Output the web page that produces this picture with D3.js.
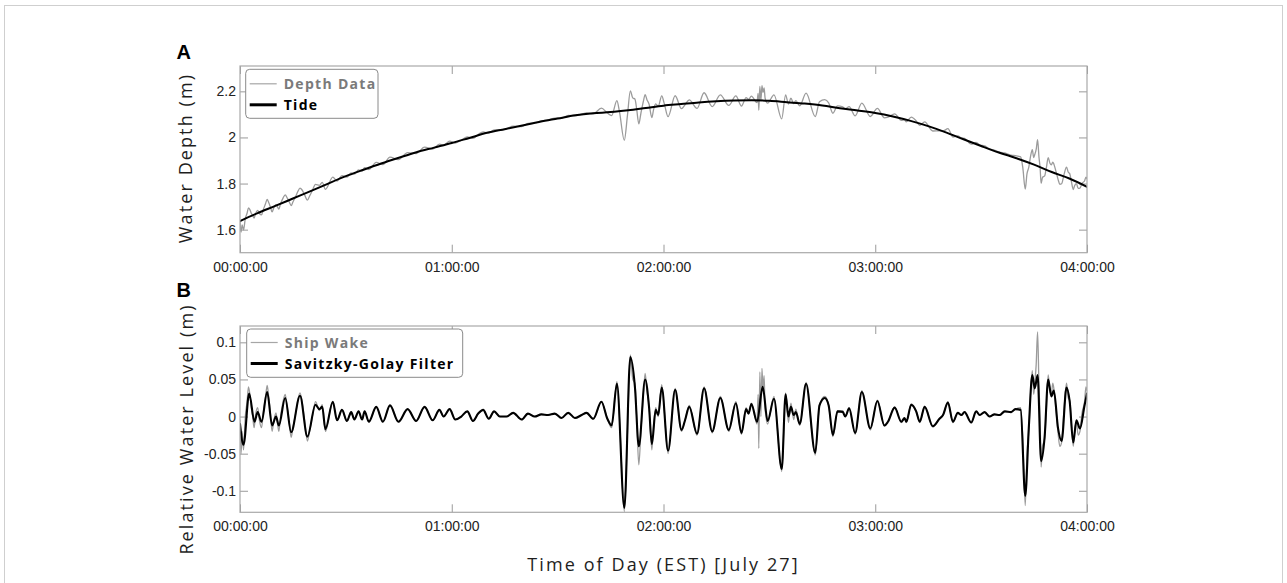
<!DOCTYPE html>
<html>
<head>
<meta charset="utf-8">
<script src="https://cdn.jsdelivr.net/npm/d3@7"></script>
<style>
  body { margin: 0; background: #fff; }
  svg { display: block; }
</style>
</head>
<body>
<svg id="chart" width="1287" height="583"></svg>
<script>
// ---- axis ticks ----
const timeTicks = [0, 60, 120, 180, 240];               // minutes after midnight
const timeTickLabels = ["00:00:00", "01:00:00", "02:00:00", "03:00:00", "04:00:00"];
const depthTicks = [1.6, 1.8, 2, 2.2];
const levelTicks = [-0.1, -0.05, 0, 0.05, 0.1];

// ---- Panel A: tide (m), [minute, depth] ----
const tide = [
  [0,1.637],[5,1.672],[10,1.703],[15,1.735],[20,1.767],[25,1.800],[30,1.832],[35,1.860],
  [40,1.887],[45,1.912],[50,1.936],[55,1.956],[60,1.976],[65,1.998],[70,2.020],[75,2.036],
  [80,2.052],[85,2.068],[90,2.082],[95,2.096],[100,2.105],[105,2.110],[110,2.118],[115,2.128],
  [120,2.138],[125,2.145],[130,2.152],[135,2.157],[140,2.160],[145,2.161],[150,2.159],[155,2.153],
  [160,2.147],[165,2.139],[170,2.127],[175,2.117],[180,2.106],[185,2.091],[190,2.072],[195,2.049],
  [200,2.022],[205,1.992],[210,1.963],[215,1.935],[220,1.910],[225,1.882],[230,1.850],[235,1.822],
  [240,1.786]
];

// ---- Panel A: measured depth (m), [minute, depth] ----
const depthData = [
  [0,1.632],[0.3,1.589],[0.6,1.621],[1.0,1.599],[1.5,1.648],[2.0,1.671],[2.4,1.694],[2.8,1.687],
  [3.2,1.671],[3.6,1.662],[4.0,1.650],[4.4,1.670],[5.0,1.684],[5.5,1.670],[6.1,1.664],[6.6,1.687],
  [7.2,1.711],[7.7,1.731],[8.1,1.719],[8.6,1.699],[9.1,1.677],[9.6,1.696],[10.2,1.709],[10.6,1.699],
  [11.0,1.689],[11.5,1.713],[12.2,1.737],[12.8,1.751],[13.4,1.737],[14.0,1.719],[14.5,1.704],[15.0,1.720],
  [15.8,1.745],[16.4,1.766],[17.0,1.780],[17.6,1.772],[18.3,1.751],[19.1,1.728],[19.7,1.745],[20.5,1.770],
  [21.4,1.796],[22.5,1.792],[23.3,1.805],[24.2,1.775],[26.3,1.828],[27.5,1.811],[28.9,1.834],[30.3,1.828],
  [31.5,1.846],[32.4,1.841],[33.6,1.859],[34.6,1.854],[35.3,1.869],[36.5,1.861],[38.6,1.892],[40.5,1.882],
  [42.5,1.915],[44.9,1.904],[47.5,1.934],[49.9,1.930],[52.3,1.958],[54.6,1.949],[56.5,1.971],[57.7,1.967],
  [59.4,1.984],[61.0,1.976],[62.7,1.988],[64.4,2.002],[66.0,1.996],[67.5,2.013],[68.9,2.024],[70.5,2.019],
  [72.0,2.033],[73.6,2.032],[75.5,2.038],[77.4,2.049],[79.8,2.047],[81.6,2.061],[83.5,2.063],[85.4,2.072],
  [87.3,2.076],[89.2,2.084],[91.1,2.083],[93.0,2.096],[94.9,2.094],[96.8,2.101],[98.2,2.107],[100.1,2.102],
  [102.4,2.127],[104.1,2.106],[105.3,2.095],[106.8,2.160],[107.5,2.114],[108.9,1.988],[109.8,2.098],[110.6,2.202],
  [111.3,2.171],[111.9,2.167],[112.4,2.123],[113.0,2.059],[113.6,2.105],[114.3,2.157],[114.8,2.186],[115.3,2.164],
  [115.9,2.145],[116.7,2.086],[117.2,2.122],[117.8,2.146],[118.5,2.135],[119.5,2.180],[120.2,2.148],[121.3,2.090],
  [123.3,2.181],[125.1,2.125],[126.1,2.142],[127.3,2.163],[129.5,2.126],[131.5,2.194],[133.8,2.134],[136.1,2.185],
  [138.5,2.139],[140.5,2.180],[142.1,2.136],[143.4,2.173],[144.1,2.165],[144.9,2.179],[146.5,2.151],[146.8,2.191],
  [147.0,2.118],[147.3,2.221],[147.6,2.161],[147.9,2.225],[148.2,2.195],[148.5,2.215],[148.8,2.170],[149.5,2.149],
  [151.3,2.185],[153.5,2.081],[154.6,2.185],[155.4,2.145],[156.1,2.170],[156.9,2.147],[157.5,2.160],[158.6,2.137],
  [160.4,2.192],[163.0,2.090],[164.2,2.155],[165.7,2.164],[166.8,2.150],[168.0,2.105],[169.3,2.137],[170.8,2.133],
  [171.5,2.124],[172.6,2.134],[174.3,2.094],[176.2,2.149],[178.6,2.091],[180.6,2.126],[182.6,2.085],[183.6,2.088],
  [185.5,2.102],[187.4,2.074],[188.3,2.076],[188.8,2.068],[190.2,2.088],[191.6,2.072],[192.6,2.052],[194.0,2.068],
  [196.3,2.028],[198.2,2.029],[199.2,2.028],[200.6,2.038],[202.0,2.002],[203.4,2.007],[204.4,1.998],[205.3,1.996],
  [207.2,1.971],[208.6,1.978],[209.6,1.967],[211.0,1.963],[212.4,1.950],[213.8,1.945],[215.2,1.936],[216.7,1.933],
  [218.5,1.923],[219.7,1.921],[221.2,1.916],[221.8,1.870],[222.5,1.776],[223.0,1.843],[223.5,1.870],[224.0,1.918],
  [224.5,1.947],[224.9,1.913],[225.2,1.926],[225.6,1.948],[226.0,1.990],[226.4,1.913],[226.7,1.871],[227.0,1.801],
  [227.4,1.827],[228.0,1.833],[228.5,1.870],[229.0,1.912],[229.5,1.888],[229.9,1.881],[230.3,1.893],[230.6,1.885],
  [231.2,1.853],[231.8,1.818],[232.3,1.797],[232.8,1.799],[233.5,1.840],[234.2,1.871],[234.7,1.849],[235.1,1.843],
  [235.6,1.807],[236.1,1.774],[236.5,1.791],[237.0,1.800],[237.5,1.779],[238.0,1.780],[238.6,1.801],[239.3,1.811],
  [239.7,1.828],[240.0,1.821]
];

// ---- Panel B: ship wake residual (m), [minute, level] ----
const shipWake = [
  [0,-0.005],[0.3,-0.050],[0.6,-0.020],[1.0,-0.045],[1.5,0.000],[2.0,0.020],[2.4,0.040],[2.8,0.030],
  [3.2,0.012],[3.6,0.000],[4.0,-0.015],[4.4,0.002],[5.0,0.012],[5.5,-0.005],[6.1,-0.015],[6.6,0.005],
  [7.2,0.025],[7.7,0.042],[8.1,0.028],[8.6,0.005],[9.1,-0.020],[9.6,-0.005],[10.2,0.005],[10.6,-0.008],
  [11.0,-0.020],[11.5,0.000],[12.2,0.020],[12.8,0.030],[13.4,0.012],[14.0,-0.010],[14.5,-0.028],[15.0,-0.015],
  [15.8,0.005],[16.4,0.022],[17.0,0.032],[17.6,0.020],[18.3,-0.005],[19.1,-0.033],[19.7,-0.020],[20.5,0.000],
  [21.4,0.020],[22.5,0.008],[23.3,0.016],[24.2,-0.020],[26.3,0.020],[27.5,-0.005],[28.9,0.009],[30.3,-0.006],
  [31.5,0.006],[32.4,-0.004],[33.6,0.007],[34.6,-0.004],[35.3,0.007],[36.5,-0.007],[38.6,0.013],[40.5,-0.007],
  [42.5,0.015],[44.9,-0.007],[47.5,0.010],[49.9,-0.006],[52.3,0.013],[54.6,-0.005],[56.5,0.009],[57.7,0.000],
  [59.4,0.010],[61.0,-0.004],[62.7,0.000],[64.4,0.007],[66.0,-0.006],[67.5,0.004],[68.9,0.009],[70.5,-0.003],
  [72.0,0.007],[73.6,0.000],[75.5,0.000],[77.4,0.005],[79.8,-0.004],[81.6,0.004],[83.5,0.000],[85.4,0.003],
  [87.3,0.002],[89.2,0.004],[91.1,-0.002],[93.0,0.005],[94.9,-0.002],[96.8,0.002],[98.2,0.005],[100.1,-0.003],
  [102.4,0.020],[104.1,-0.003],[105.3,-0.015],[106.8,0.047],[107.5,0.000],[108.9,-0.128],[109.8,-0.020],[110.6,0.083],
  [111.3,0.050],[111.9,0.045],[112.4,0.000],[113.0,-0.065],[113.6,-0.020],[114.3,0.030],[114.8,0.058],[115.3,0.035],
  [115.9,0.015],[116.7,-0.045],[117.2,-0.010],[117.8,0.012],[118.5,0.000],[119.5,0.043],[120.2,0.010],[121.3,-0.050],
  [123.3,0.038],[125.1,-0.020],[126.1,-0.005],[127.3,0.015],[129.5,-0.025],[131.5,0.040],[133.8,-0.022],[136.1,0.027],
  [138.5,-0.020],[140.5,0.020],[142.1,-0.024],[143.4,0.012],[144.1,0.004],[144.9,0.018],[146.5,-0.010],[146.8,0.030],
  [147.0,-0.043],[147.3,0.060],[147.6,0.000],[147.9,0.065],[148.2,0.035],[148.5,0.055],[148.8,0.010],[149.5,-0.010],
  [151.3,0.027],[153.5,-0.074],[154.6,0.032],[155.4,-0.008],[156.1,0.018],[156.9,-0.004],[157.5,0.010],[158.6,-0.012],
  [160.4,0.046],[163.0,-0.052],[164.2,0.015],[165.7,0.027],[166.8,0.015],[168.0,-0.027],[169.3,0.008],[170.8,0.008],
  [171.5,0.000],[172.6,0.012],[174.3,-0.024],[176.2,0.035],[178.6,-0.018],[180.6,0.022],[182.6,-0.013],[183.6,-0.007],
  [185.5,0.013],[187.4,-0.008],[188.3,-0.002],[188.8,-0.008],[190.2,0.017],[191.6,0.007],[192.6,-0.008],[194.0,0.014],
  [196.3,-0.014],[198.2,-0.003],[199.2,0.002],[200.6,0.020],[202.0,-0.008],[203.4,0.005],[204.4,0.002],[205.3,0.006],
  [207.2,-0.008],[208.6,0.007],[209.6,0.002],[211.0,0.006],[212.4,0.000],[213.8,0.003],[215.2,0.002],[216.7,0.007],
  [218.5,0.006],[219.7,0.010],[221.2,0.012],[221.8,-0.030],[222.5,-0.120],[223.0,-0.050],[223.5,-0.020],[224.0,0.030],
  [224.5,0.062],[224.9,0.030],[225.2,0.045],[225.6,0.070],[226.0,0.114],[226.4,0.040],[226.7,0.000],[227.0,-0.068],
  [227.4,-0.040],[228.0,-0.030],[228.5,0.010],[229.0,0.056],[229.5,0.035],[229.9,0.030],[230.3,0.045],[230.6,0.038],
  [231.2,0.010],[231.8,-0.022],[232.3,-0.040],[232.8,-0.035],[233.5,0.010],[234.2,0.045],[234.7,0.025],[235.1,0.022],
  [235.6,-0.010],[236.1,-0.040],[236.5,-0.020],[237.0,-0.008],[237.5,-0.025],[238.0,-0.020],[238.6,0.005],[239.3,0.020],
  [239.7,0.040],[240.0,0.035]
];

// ---- Panel B: Savitzky-Golay filtered level (m), [minute, level] ----
const sgFilter = [
  [0,-0.010],[1.0,-0.038],[2.6,0.031],[4.1,-0.007],[5.0,0.006],[6.1,-0.007],[7.7,0.033],[9.1,-0.012],
  [10.2,0.000],[11.0,-0.012],[12.8,0.025],[14.5,-0.021],[17.0,0.028],[19.1,-0.027],[21.4,0.016],[22.5,0.010],
  [23.3,0.013],[24.2,-0.017],[26.3,0.020],[27.5,-0.005],[28.9,0.009],[30.3,-0.006],[31.5,0.006],[32.4,-0.004],
  [33.6,0.007],[34.6,-0.004],[35.3,0.007],[36.5,-0.007],[38.6,0.013],[40.5,-0.007],[42.5,0.015],[44.9,-0.007],
  [47.5,0.010],[49.9,-0.006],[52.3,0.013],[54.6,-0.005],[56.5,0.009],[57.7,0.000],[59.4,0.010],[61.0,-0.004],
  [62.7,0.000],[64.4,0.007],[66.0,-0.006],[67.5,0.004],[68.9,0.009],[70.5,-0.003],[72.0,0.007],[73.6,0.000],
  [75.5,0.000],[77.4,0.005],[79.8,-0.004],[81.6,0.004],[83.5,0.000],[85.4,0.003],[87.3,0.002],[89.2,0.004],
  [91.1,-0.002],[93.0,0.005],[94.9,-0.002],[96.8,0.002],[98.2,0.005],[100.1,-0.003],[102.4,0.020],[104.1,-0.003],
  [105.3,-0.012],[106.8,0.044],[108.9,-0.123],[110.6,0.080],[111.9,0.040],[113.0,-0.040],[114.8,0.050],[115.9,0.013],
  [116.7,-0.037],[117.8,0.009],[118.5,0.002],[119.5,0.039],[121.3,-0.046],[123.3,0.036],[125.1,-0.018],[126.1,-0.005],
  [127.3,0.013],[129.5,-0.023],[131.5,0.038],[133.8,-0.020],[136.1,0.025],[138.5,-0.018],[140.5,0.018],[142.1,-0.022],
  [143.4,0.010],[144.1,0.004],[144.9,0.017],[146.5,-0.007],[148.1,0.040],[149.5,-0.006],[151.3,0.024],[153.5,-0.071],
  [154.6,0.030],[155.4,0.000],[156.1,0.013],[156.9,0.002],[157.5,0.006],[158.6,-0.010],[160.4,0.044],[163.0,-0.049],
  [164.2,0.015],[165.7,0.025],[166.8,0.015],[168.0,-0.025],[169.3,0.007],[170.8,0.006],[171.5,0.000],[172.6,0.011],
  [174.3,-0.022],[176.2,0.033],[178.6,-0.016],[180.6,0.021],[182.6,-0.012],[183.6,-0.007],[185.5,0.012],[187.4,-0.007],
  [188.3,-0.002],[188.8,-0.007],[190.2,0.016],[191.6,0.007],[192.6,-0.007],[194.0,0.013],[196.3,-0.013],[198.2,-0.003],
  [199.2,0.002],[200.6,0.019],[202.0,-0.007],[203.4,0.005],[204.4,0.002],[205.3,0.006],[207.2,-0.008],[208.6,0.007],
  [209.6,0.002],[211.0,0.006],[212.4,0.000],[213.8,0.003],[215.2,0.002],[216.7,0.007],[218.5,0.006],[219.7,0.010],
  [221.2,0.009],[222.5,-0.107],[223.5,-0.016],[224.5,0.056],[225.2,0.038],[226.0,0.056],[227.0,-0.060],[228.0,-0.027],
  [229.0,0.050],[229.9,0.027],[230.6,0.035],[231.8,-0.016],[232.8,-0.033],[234.2,0.039],[235.1,0.020],[236.1,-0.035],
  [237.0,-0.005],[238.0,-0.016],[239.3,0.015],[240.0,0.031]
];

const legendA = ["Depth Data", "Tide"];
const legendB = ["Ship Wake", "Savitzky-Golay Filter"];

// ---- layout ----
const svg = d3.select("#chart");
const plotLeft = 240, plotRight = 1087;
const GRAY = "#9b9b9b", FRAME = "#a9a9a9", TEXT = "#1e1e1e";
const tickFont = "'Liberation Sans', Arial, sans-serif";
const titleFont = "'Open Sans', 'Noto Sans', sans-serif";

// page frame
svg.append("rect")
  .attr("x", 4.5).attr("y", 5.5).attr("width", 1278).attr("height", 640)
  .attr("fill", "none").attr("stroke", "#cfcfcf").attr("stroke-width", 1);

const x = d3.scaleLinear().domain([0, 240]).range([plotLeft, plotRight]);

function drawPanel(opt) {
  const { id, top, bottom, y, yTicks, series, legend, legendBox, letter, letterY, yTitle, yTitleX, yTitleY } = opt;
  const g = svg.append("g");

  g.append("clipPath").attr("id", id)
    .append("rect").attr("x", plotLeft).attr("y", top)
    .attr("width", plotRight - plotLeft).attr("height", bottom - top);

  const styleAxis = sel => {
    sel.select(".domain").remove();
    sel.selectAll(".tick line").attr("stroke", "#9a9a9a").attr("stroke-width", 1);
    sel.selectAll(".tick text")
      .attr("fill", "#222").style("font-family", tickFont).style("font-size", "14px");
  };

  g.append("g").attr("transform", `translate(0,${bottom})`)
    .call(d3.axisBottom(x).tickValues(timeTicks).tickFormat((d, i) => timeTickLabels[i])
      .tickSize(-8).tickSizeOuter(0).tickPadding(9))
    .call(styleAxis);
  g.append("g").attr("transform", `translate(0,${top})`)
    .call(d3.axisTop(x).tickValues(timeTicks).tickFormat(() => "").tickSize(-8).tickSizeOuter(0))
    .call(styleAxis);
  g.append("g").attr("transform", `translate(${plotLeft},0)`)
    .call(d3.axisLeft(y).tickValues(yTicks).tickFormat(d => String(d))
      .tickSize(-8).tickSizeOuter(0).tickPadding(4))
    .call(styleAxis);
  g.append("g").attr("transform", `translate(${plotRight},0)`)
    .call(d3.axisRight(y).tickValues(yTicks).tickFormat(() => "").tickSize(-8).tickSizeOuter(0))
    .call(styleAxis);

  const line = d3.line().x(d => x(d[0])).y(d => y(d[1])).curve(d3.curveMonotoneX);
  const plot = g.append("g").attr("clip-path", `url(#${id})`);
  series.forEach(s => {
    plot.append("path").datum(s.data)
      .attr("d", line).attr("fill", "none")
      .attr("stroke", s.color).attr("stroke-width", s.width)
      .attr("stroke-linejoin", "round").attr("stroke-linecap", "round");
  });

  g.append("rect")
    .attr("x", plotLeft).attr("y", top)
    .attr("width", plotRight - plotLeft).attr("height", bottom - top)
    .attr("fill", "none").attr("stroke", FRAME).attr("stroke-width", 1.2);

  // legend
  const lg = g.append("g");
  lg.append("rect")
    .attr("x", legendBox.x).attr("y", legendBox.y)
    .attr("width", legendBox.w).attr("height", legendBox.h)
    .attr("rx", 4).attr("fill", "#fff").attr("stroke", "#8a8a8a").attr("stroke-width", 1);
  legend.forEach((label, i) => {
    const ly = legendBox.y + legendBox.row0 + i * legendBox.step;
    lg.append("line")
      .attr("x1", legendBox.x + 4).attr("x2", legendBox.x + 31)
      .attr("y1", ly).attr("y2", ly)
      .attr("stroke", i === 0 ? "#a6a6a6" : "#000")
      .attr("stroke-width", i === 0 ? 1.2 : 3);
    lg.append("text")
      .attr("x", legendBox.x + 38).attr("y", ly + 5)
      .attr("fill", i === 0 ? "#7a7a7a" : "#000")
      .style("font-family", titleFont).style("font-size", "14px")
      .style("font-weight", 700).style("letter-spacing", "1.3px")
      .text(label);
  });

  // panel letter
  g.append("text").attr("x", 176.5).attr("y", letterY)
    .style("font-family", tickFont).style("font-size", "20px").style("font-weight", 700)
    .attr("fill", "#000").text(letter);

  // y title
  g.append("text")
    .attr("transform", `translate(${yTitleX},${yTitleY}) rotate(-90)`)
    .attr("text-anchor", "middle")
    .style("font-family", titleFont).style("font-size", "18px").style("font-weight", 500)
    .style("letter-spacing", "2.1px")
    .attr("fill", TEXT).text(yTitle);
}

// Panel A: water depth
const yA = d3.scaleLinear().domain([1.5, 2.31]).range([252.7, 66]);
drawPanel({
  id: "clipA", top: 66, bottom: 252.7, y: yA, yTicks: depthTicks,
  series: [
    { data: depthData, color: GRAY, width: 1.3 },
    { data: tide, color: "#000", width: 2 }
  ],
  legend: legendA,
  legendBox: { x: 245.7, y: 69.3, w: 132.3, h: 49, row0: 14.5, step: 21 },
  letter: "A", letterY: 59,
  yTitle: "Water Depth (m)", yTitleX: 192, yTitleY: 158
});

// Panel B: relative water level
const yB = d3.scaleLinear().domain([-0.129, 0.122]).range([512.3, 326]);
drawPanel({
  id: "clipB", top: 326, bottom: 512.3, y: yB, yTicks: levelTicks,
  series: [
    { data: shipWake, color: GRAY, width: 1.3 },
    { data: sgFilter, color: "#000", width: 2.1 }
  ],
  legend: legendB,
  legendBox: { x: 246.7, y: 329, w: 216, h: 48.3, row0: 13.5, step: 21 },
  letter: "B", letterY: 297,
  yTitle: "Relative Water Level (m)", yTitleX: 193, yTitleY: 429
});

// shared x title
svg.append("text")
  .attr("x", (plotLeft + plotRight) / 2).attr("y", 571)
  .attr("text-anchor", "middle")
  .style("font-family", titleFont).style("font-size", "18px").style("font-weight", 500)
  .style("letter-spacing", "2.1px")
  .attr("fill", TEXT).text("Time of Day (EST) [July 27]");
</script>
</body>
</html>
